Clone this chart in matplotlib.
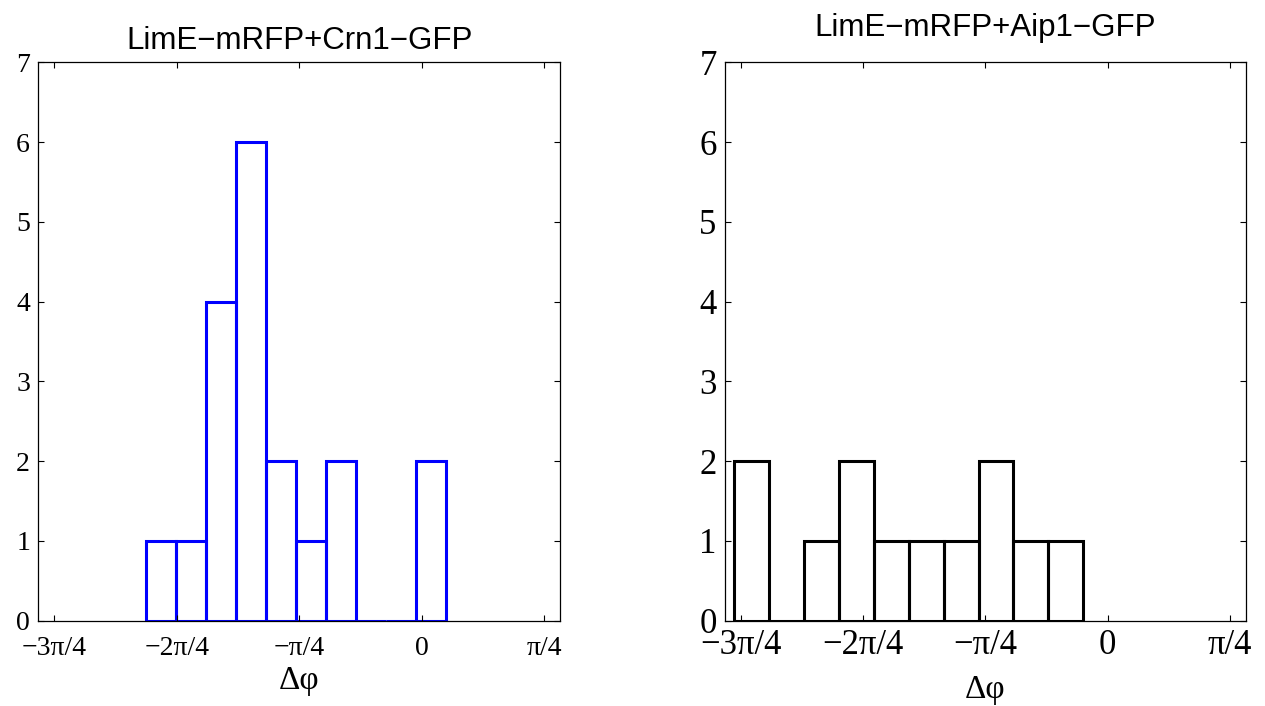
import numpy as np
import matplotlib
matplotlib.use('Agg')
import matplotlib.pyplot as plt

# Histogram data (bin centres in radians, counts)
crn1_centers = [-1.672, -1.480, -1.288, -1.096, -0.904, -0.712, -0.520, -0.328, -0.136, 0.056]
crn1_counts = [1, 1, 4, 6, 2, 1, 2, 0, 0, 2]

aip1_centers = [-2.286, -2.062, -1.838, -1.614, -1.390, -1.166, -0.942, -0.718, -0.494, -0.270]
aip1_counts = [2, 0, 1, 2, 1, 1, 1, 2, 1, 1]

tick_pos = [-3 * np.pi / 4, -2 * np.pi / 4, -np.pi / 4, 0, np.pi / 4]
tick_labels = ['\u22123\u03c0/4', '\u22122\u03c0/4', '\u2212\u03c0/4', '0', '\u03c0/4']

titles = ['LimE\u2212mRFP+Crn1\u2212GFP', 'LimE\u2212mRFP+Aip1\u2212GFP']

serif = ['Liberation Serif', 'DejaVu Serif']
sans = ['Liberation Sans', 'DejaVu Sans']

fig = plt.figure(figsize=(12.65, 7.06), dpi=100)
ax1 = fig.add_axes([0.0303, 0.1208, 0.4124, 0.791])
ax2 = fig.add_axes([0.5731, 0.1208, 0.4116, 0.791])


def draw_hist(ax, centers, counts, color, tick_size, xpad, label_pad, title, title_y):
    width = np.diff(centers).mean()
    ax.bar(centers, counts, width=width, fill=False, edgecolor=color, linewidth=2.2)
    ax.set_xlim(-2.459, 0.886)
    ax.set_ylim(0, 7)
    ax.set_xticks(tick_pos)
    ax.set_xticklabels(tick_labels, family=serif, fontsize=tick_size)
    ax.set_yticks(range(8))
    ax.set_yticklabels([str(i) for i in range(8)], family=serif, fontsize=tick_size)
    ax.tick_params(direction='in', top=True, right=True, length=4, width=0.8)
    ax.tick_params(axis='x', pad=xpad)
    ax.tick_params(axis='y', pad=6)
    for s in ax.spines.values():
        s.set_linewidth(0.9)
    ax.set_xlabel('\u0394\u03c6', family=serif, fontsize=24, labelpad=label_pad)
    ax.set_title(title, family=sans, fontsize=22.5, y=title_y)


draw_hist(ax1, crn1_centers, crn1_counts, '#0000ff', 20, 11, 3, titles[0], 1.008)
draw_hist(ax2, aip1_centers, aip1_counts, 'black', 25, 6, 9, titles[1], 1.032)

fig.savefig('out.png', dpi=100)
